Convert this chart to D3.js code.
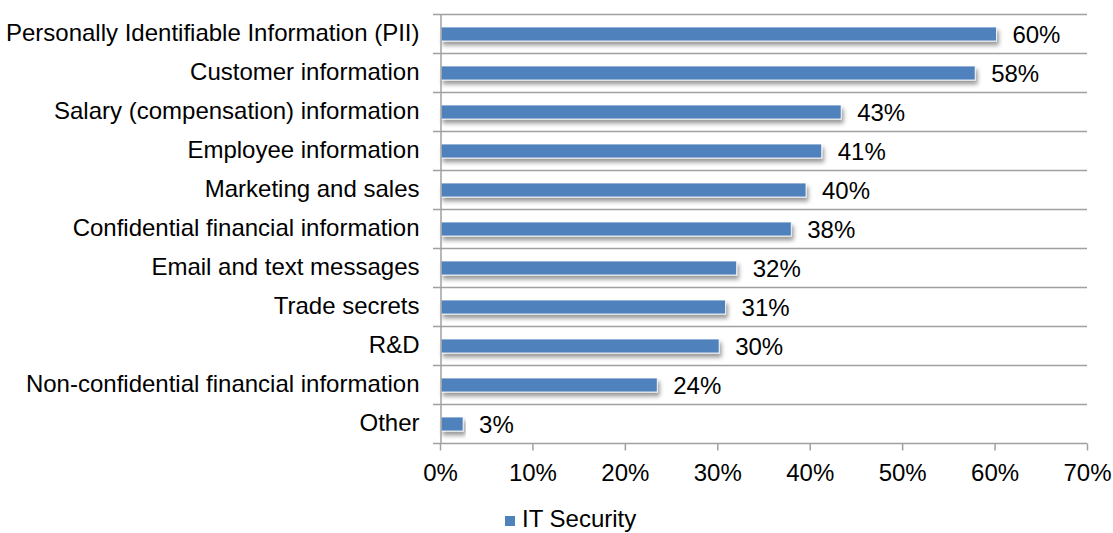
<!DOCTYPE html>
<html>
<head>
<meta charset="utf-8">
<script src="https://cdn.jsdelivr.net/npm/d3@7"></script>
<style>
  body { margin: 0; background: #fff; }
  svg { font-family: "Liberation Sans", Arial, sans-serif; }
</style>
</head>
<body>
<div id="chart"></div>
<script>
const categories = [
  "Personally Identifiable Information (PII)",
  "Customer information",
  "Salary (compensation) information",
  "Employee information",
  "Marketing and sales",
  "Confidential financial information",
  "Email and text messages",
  "Trade secrets",
  "R&D",
  "Non-confidential financial information",
  "Other"
];
const itSecurity = [60.2, 57.9, 43.4, 41.3, 39.6, 38.0, 32.1, 30.9, 30.2, 23.5, 2.5];
const valueLabels = ["60%", "58%", "43%", "41%", "40%", "38%", "32%", "31%", "30%", "24%", "3%"];
const xTicks = [0, 10, 20, 30, 40, 50, 60, 70];
const seriesName = "IT Security";

const width = 1113, height = 533;
const margin = {top: 14, right: 26, bottom: 90, left: 440};
const barColor = "#4F81BD";
const gridColor = "#a0a0a0";

const svg = d3.select("#chart").append("svg")
  .attr("width", width)
  .attr("height", height);

// soft shadow under the bars
const defs = svg.append("defs");
const filter = defs.append("filter").attr("id", "shadow")
  .attr("x", "-5%").attr("y", "-50%").attr("width", "115%").attr("height", "250%");
filter.append("feDropShadow")
  .attr("dx", 2).attr("dy", 4).attr("stdDeviation", 2)
  .attr("flood-color", "#000").attr("flood-opacity", 0.4);

const x = d3.scaleLinear()
  .domain([0, 70])
  .range([margin.left, width - margin.right]);

const y = d3.scaleBand()
  .domain(categories)
  .range([margin.top, height - margin.bottom])
  .paddingInner(0)
  .paddingOuter(0);

// horizontal grid lines at category boundaries
const bounds = categories.map(c => y(c));
svg.append("g")
  .selectAll("line")
  .data(bounds)
  .enter()
  .append("line")
  .attr("x1", x(0) - 7)
  .attr("x2", x(70))
  .attr("y1", d => d + 0.5)
  .attr("y2", d => d + 0.5)
  .attr("stroke", gridColor)
  .attr("stroke-width", 1.5);

// bars
svg.append("g")
  .selectAll("rect")
  .data(itSecurity)
  .enter()
  .append("rect")
  .attr("x", x(0) + 1)
  .attr("y", (d, i) => y(categories[i]) + 13)
  .attr("width", d => x(d) - x(0) - 1)
  .attr("height", 14)
  .attr("fill", barColor)
  .attr("stroke", "#fff")
  .attr("stroke-width", 0.8)
  .attr("filter", "url(#shadow)");

// value labels
svg.append("g")
  .selectAll("text")
  .data(itSecurity)
  .enter()
  .append("text")
  .attr("x", d => x(d) + 16)
  .attr("y", (d, i) => y(categories[i]) + y.bandwidth() / 2 + 9.5)
  .text((d, i) => valueLabels[i])
  .style("font-size", "24px")
  .attr("fill", "#000");

// y axis
const yAxis = svg.append("g")
  .attr("transform", "translate(" + (x(0) + 0.5) + ",0)")
  .call(d3.axisLeft(y).tickSize(0).tickPadding(21));
yAxis.select(".domain").attr("stroke", gridColor).attr("stroke-width", 1.5);
yAxis.selectAll("text")
  .style("font-size", "24px")
  .attr("fill", "#000")
  .attr("dy", "0.33em");

// x axis
const xAxis = svg.append("g")
  .attr("transform", "translate(0," + (y.range()[1] + 0.5) + ")")
  .call(d3.axisBottom(x).tickValues(xTicks).tickFormat(d => d + "%").tickSize(7).tickPadding(13).tickSizeOuter(0));
xAxis.select(".domain")
  .attr("stroke", gridColor).attr("stroke-width", 1.5)
  .attr("d", "M" + (x(0) - 7) + ",0H" + x(70));
xAxis.selectAll(".tick line").attr("stroke", gridColor).attr("stroke-width", 1.5);
xAxis.selectAll("text")
  .style("font-size", "24px")
  .attr("fill", "#000");

// legend
const legend = svg.append("g").attr("transform", "translate(505,516)");
legend.append("rect")
  .attr("width", 10).attr("height", 10)
  .attr("fill", barColor);
legend.append("text")
  .attr("x", 17).attr("y", 11)
  .text(seriesName)
  .style("font-size", "24px")
  .attr("fill", "#000");
</script>
</body>
</html>
